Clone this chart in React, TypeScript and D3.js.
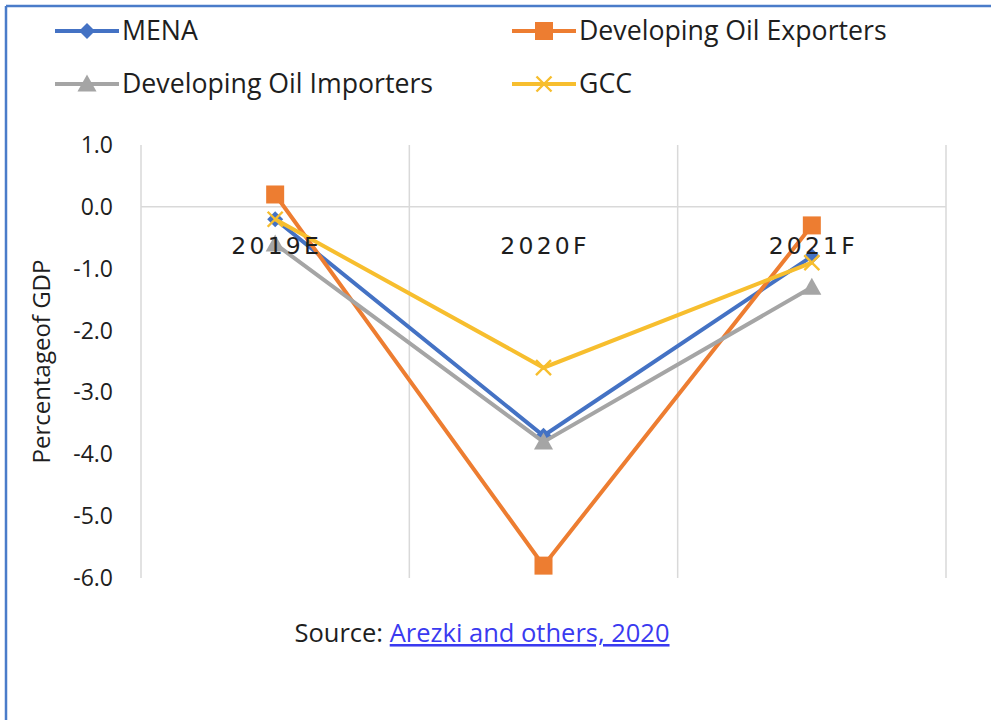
import React from "react";
import * as d3 from "d3";

const categories = ["2019E", "2020F", "2021F"];
const seriesNames = ["MENA", "Developing Oil Exporters", "Developing Oil Importers", "GCC"];
const menaValues = [-0.2, -3.7, -0.8];
const exporterValues = [0.2, -5.8, -0.3];
const importerValues = [-0.6, -3.8, -1.3];
const gccValues = [-0.2, -2.6, -0.9];
const yTicks = [1, 0, -1, -2, -3, -4, -5, -6];

const colors = ["#4472C4", "#ED7D31", "#A5A5A5", "#F7BE2E"];
const markerTypes = ["diamond", "square", "triangle", "x"];

const W = 991;
const H = 720;
const plot = { left: 141, right: 946, top: 145, bottom: 578 };

function Marker({ type, x, y, color }: { type: string; x: number; y: number; color: string }) {
  if (type === "diamond") {
    const s = 8;
    return <path d={`M${x},${y - s}L${x + s},${y}L${x},${y + s}L${x - s},${y}Z`} fill={color} />;
  }
  if (type === "square") {
    const s = 9;
    return <rect x={x - s} y={y - s} width={2 * s} height={2 * s} fill={color} />;
  }
  if (type === "triangle") {
    const s = 9.5;
    return <path d={`M${x},${y - s}L${x + s},${y + s * 0.8}L${x - s},${y + s * 0.8}Z`} fill={color} />;
  }
  const s = 7.5;
  return (
    <path
      d={`M${x - s},${y - s}L${x + s},${y + s}M${x - s},${y + s}L${x + s},${y - s}`}
      stroke={color}
      strokeWidth={2.4}
      fill="none"
    />
  );
}

export default function App() {
  const x = d3.scalePoint<string>().domain(categories).range([plot.left, plot.right]).padding(0.5);
  const y = d3.scaleLinear().domain([-6, 1]).range([plot.bottom, plot.top]);
  const allSeries = [menaValues, exporterValues, importerValues, gccValues];
  const line = d3
    .line<number>()
    .x((_, i) => x(categories[i]) as number)
    .y((d) => y(d));
  const step = x.step();
  const gridXs = [0, 1, 2, 3].map((i) => plot.left + i * step);

  const legend = [
    { name: seriesNames[0], lx: 55, ly: 31 },
    { name: seriesNames[1], lx: 512, ly: 31 },
    { name: seriesNames[2], lx: 55, ly: 84 },
    { name: seriesNames[3], lx: 512, ly: 84 },
  ];

  const font = "'Open Sans', 'Noto Sans', sans-serif";
  const ink = "#1e1e1e";

  return (
    <svg
      width={W}
      height={H}
      style={{ position: "absolute", left: 0, top: 0, background: "#fff" }}
    >
      <rect x={0} y={0} width={W} height={H} fill="#fff" />
      <line x1={6} x2={W} y1={6} y2={6} stroke="#4a7cc9" strokeWidth={2.5} />
      <line x1={6} x2={6} y1={6} y2={H} stroke="#4a7cc9" strokeWidth={2.5} />

      {legend.map((l, i) => (
        <g key={l.name}>
          <line x1={l.lx} x2={l.lx + 64} y1={l.ly} y2={l.ly} stroke={colors[i]} strokeWidth={4} />
          <Marker type={markerTypes[i]} x={l.lx + 32} y={l.ly} color={colors[i]} />
          <text x={l.lx + 67} y={l.ly + 9} fontFamily={font} fontSize={26.7} fill={ink}>
            {l.name}
          </text>
        </g>
      ))}

      {gridXs.map((gx, i) => (
        <line key={i} x1={gx} x2={gx} y1={plot.top} y2={plot.bottom} stroke="#d9d9d9" strokeWidth={1.5} />
      ))}
      <line x1={plot.left} x2={plot.right} y1={y(0)} y2={y(0)} stroke="#d9d9d9" strokeWidth={1.5} />

      {yTicks.map((t) => (
        <text
          key={t}
          x={113}
          y={y(t) + 8}
          textAnchor="end"
          fontFamily={font}
          fontSize={23}
          fill={ink}
        >
          {t.toFixed(1)}
        </text>
      ))}

      <text
        transform={`translate(50, ${(plot.top + plot.bottom) / 2}) rotate(-90)`}
        textAnchor="middle"
        fontFamily={font}
        fontSize={24}
        fill={ink}
      >
        Percentageof GDP
      </text>

      {allSeries.map((vals, si) => (
        <g key={si}>
          <path d={line(vals) || ""} fill="none" stroke={colors[si]} strokeWidth={4} />
          {vals.map((v, i) => (
            <Marker key={i} type={markerTypes[si]} x={x(categories[i]) as number} y={y(v)} color={colors[si]} />
          ))}
        </g>
      ))}

      {categories.map((c) => (
        <text
          key={c}
          x={(x(c) as number) + 1.5}
          y={y(0) + 47}
          textAnchor="middle"
          fontFamily="'DejaVu Sans', sans-serif"
          fontSize={23.5}
          letterSpacing={3.2}
          fill={ink}
        >
          {c}
        </text>
      ))}

      <text x={482} y={642} textAnchor="middle" fontFamily={font} fontSize={25.5} fill={ink}>
        Source:{" "}
        <tspan fill="#3a3af0" textDecoration="underline">
          Arezki and others, 2020
        </tspan>
      </text>
    </svg>
  );
}
